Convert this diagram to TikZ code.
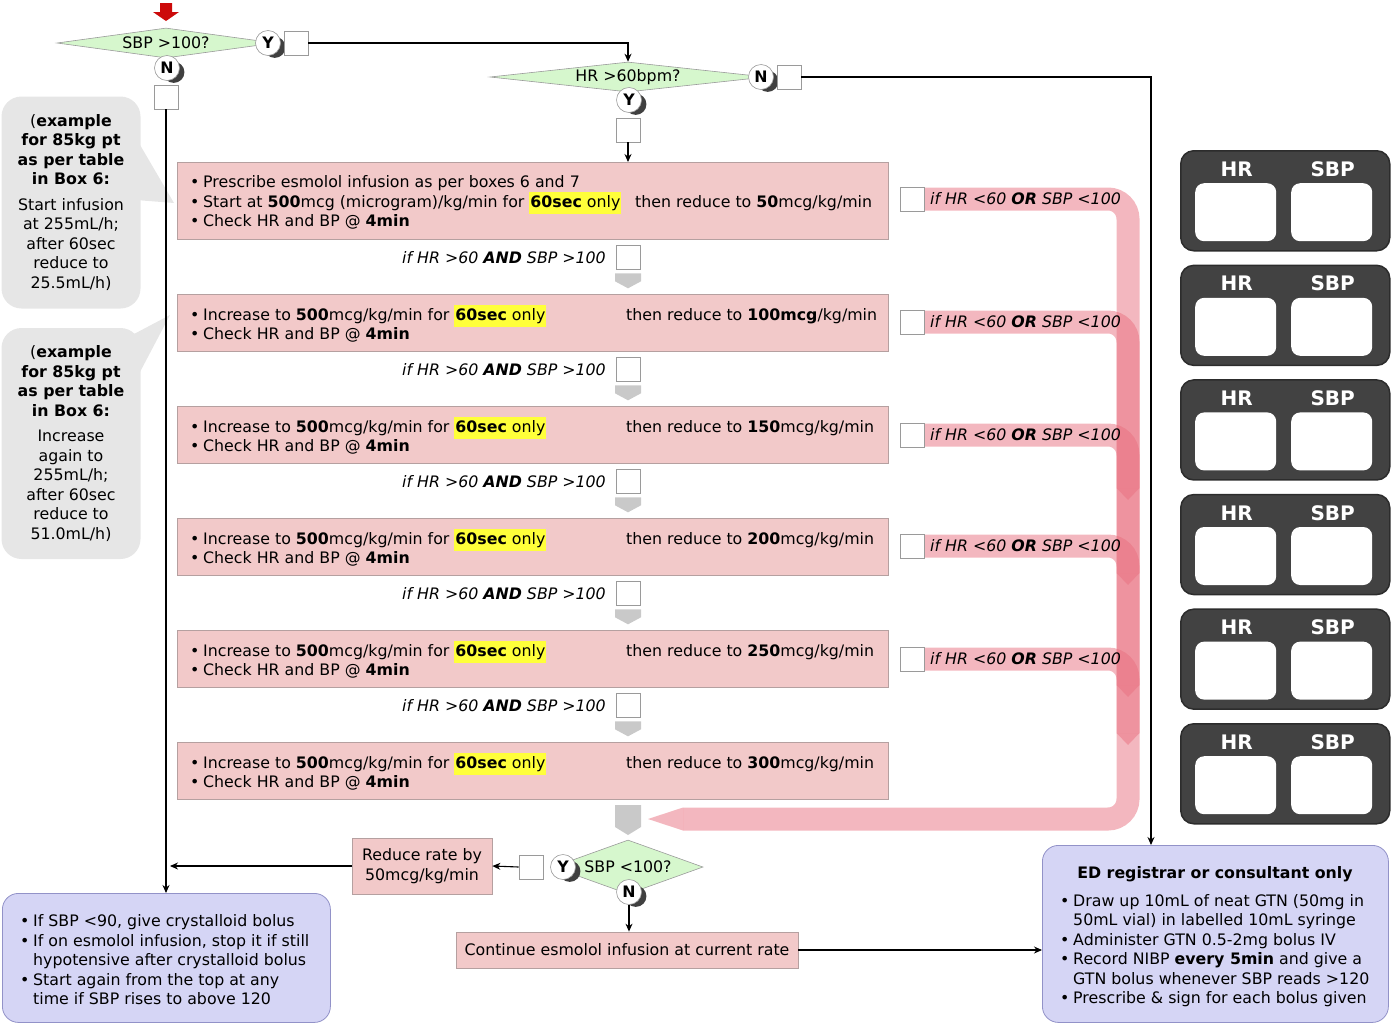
\documentclass[tikz,border=0pt]{standalone}
\usepackage{fontspec}
\setmainfont{DejaVu Sans}
\usepackage{xcolor}
\usepackage{tikz}
\usetikzlibrary{calc,arrows.meta,shapes.geometric,shadows}
\definecolor{pinkbox}{HTML}{F2C9C9}
\definecolor{pinkline}{HTML}{B5A0A0}
\definecolor{greenfill}{HTML}{D6F7CD}
\definecolor{greyline}{HTML}{9A9A9A}
\definecolor{calloutbg}{HTML}{E6E6E6}
\definecolor{lavfill}{HTML}{D5D5F5}
\definecolor{lavline}{HTML}{9292C8}
\definecolor{panelbg}{HTML}{424242}
\definecolor{panelline}{HTML}{2C2C2C}
\definecolor{bandc}{HTML}{E8707F}
\definecolor{chevc}{HTML}{C9C9C9}
\definecolor{hly}{HTML}{FFFF3A}
\definecolor{startred}{HTML}{CC0A0A}
\newcommand\fs{\fontsize{15.8}{19.5}\selectfont}
\newcommand\hl[1]{{\setlength{\fboxsep}{1pt}\colorbox{hly}{\strut#1}}}
\newcommand\bul{\makebox[13pt][l]{•}}
\newcommand\ind{\hspace*{13pt}}
\tikzset{
  conn/.style={draw=black, line width=1.1pt, -{Stealth[length=8pt,width=7pt]}},
  stepbox/.style={draw=pinkline, fill=pinkbox, line width=0.8pt, inner sep=0pt},
  dia/.style={diamond, draw=greyline, fill=greenfill, line width=0.6pt, inner sep=0pt, font=\fs},
  yn/.style={circle, draw=greyline, fill=white, line width=0.6pt, minimum size=25pt, inner sep=0pt, font=\fs\bfseries,
    general shadow={fill=black!75, shadow xshift=8pt, shadow yshift=-5pt, shadow scale=0.85}},
  chk/.style={draw=greyline, fill=white, line width=0.6pt, minimum size=24pt, inner sep=0pt},
  txt/.style={font=\fs, inner sep=0pt, align=left},
  cond/.style={font=\fs\itshape, inner sep=0pt},
  callout/.style={fill=calloutbg, rounded corners=20pt, inner sep=0pt},
  lav/.style={draw=lavline, fill=lavfill, line width=0.8pt, rounded corners=16pt, inner sep=0pt},
  panel/.style={draw=panelline, fill=panelbg, line width=1.5pt, rounded corners=13pt, inner sep=0pt},
  slot/.style={fill=white, rounded corners=9pt, inner sep=0pt},
  band/.style={draw=bandc, draw opacity=0.5, line width=23pt, rounded corners=20pt},
  bandtip/.style={fill=bandc, fill opacity=0.5},
}
\begin{document}
\begin{tikzpicture}[x=1pt,y=-1pt]
  \useasboundingbox (0,0) rectangle (1394,1026);

  % return bands
  \draw[band] (924,199) -- (1128,199) -- (1128,819) -- (683,819);
  \fill[bandtip] (683,807.5) -- (648,819) -- (683,830.5) -- cycle;
  \foreach \y/\t in {322/500,435/585,546/697,659/745}{
    \draw[band] (924,\y) -- (1128,\y) -- (1128,\t-12);
    \fill[bandtip] (1116.5,\t-12) -- (1128,\t) -- (1139.5,\t-12) -- cycle;
  }

  % start
  \fill[startred] (160,3) -- (172,3) -- (172,12) -- (179,12) -- (166,21) -- (153,12) -- (160,12) -- cycle;
  \node[dia, aspect=7.2, minimum width=218pt, minimum height=30pt] (sbpq) at (166,43) {SBP >100?};
  \node[yn] (y1) at (268,43) {Y};
  \node[chk] (cy1) at (296,43) {};
  \node[yn] (n1) at (167,68) {N};
  \node[chk] (cn1) at (166,97) {};

  \node[dia, aspect=9, minimum width=276pt, minimum height=30pt] (hrq) at (628,77) {HR >60bpm?};
  \node[yn] (n2) at (761,77) {N};
  \node[chk] (cn2) at (789,77) {};
  \node[yn] (y2) at (629,100) {Y};
  \node[chk] (cy2) at (628,130) {};

  % steps
  \node[stepbox, minimum width=711pt, minimum height=77pt, anchor=north west] (b1) at (177,162) {};
  \node[txt, anchor=west] (b1t) at ($(b1.west)+(13,1.5)$) {\bul Prescribe esmolol infusion as per boxes 6 and 7\\
    \makebox[445pt][l]{\bul Start at \textbf{500}mcg (microgram)/kg/min for \hl{\textbf{60sec} only}}then reduce to \textbf{50}mcg/kg/min\\
    \bul Check HR and BP @ \textbf{4min}};
  \foreach \i/\y/\v in {2/294/{\textbf{100mcg}},3/406/{\textbf{150}mcg},4/518/{\textbf{200}mcg},5/630/{\textbf{250}mcg},6/742/{\textbf{300}mcg}}{
    \node[stepbox, minimum width=711pt, minimum height=57pt, anchor=north west] (b\i) at (177,\y) {};
    \node[txt, anchor=west] (b\i t) at ($(b\i.west)+(13,1)$) {\makebox[436pt][l]{\bul Increase to \textbf{500}mcg/kg/min for \hl{\textbf{60sec} only}}then reduce to \v/kg/min\\
      \bul Check HR and BP @ \textbf{4min}};
  }
  \foreach \i/\y in {1/258,2/370,3/482,4/594,5/706}{
    \node[cond, anchor=east] (and\i) at (606,\y) {if HR >60 \textbf{AND} SBP >100};
    \node[chk] (ca\i) at (628,\y-1) {};
    \fill[chevc] ($(ca\i.south)+(-13,4)$) -- ++(26,0) -- ++(0,8) -- ++(-13,7) -- ++(-13,-7) -- cycle;
  }
  \foreach \i/\y in {1/199,2/322,3/435,4/546,5/659}{
    \node[chk] (ck\i) at (912,\y) {};
    \node[cond, anchor=west] (or\i) at (930,\y) {if HR <60 \textbf{OR} SBP <100};
  }
  \fill[chevc] (615,805) -- (641,805) -- (641,827) -- (628,835) -- (615,827) -- cycle;

  % bottom decision
  \node[dia, aspect=2.8, minimum width=150pt, minimum height=54pt] (sbp3) at (628,867) {SBP <100?};
  \node[yn] (y3) at (563,867) {Y};
  \node[chk] (cy3) at (531,867) {};
  \node[yn] (n3) at (629,892) {N};
  \node[stepbox, minimum width=140pt, minimum height=56pt, align=center, font=\fs] (red) at (422,866) {Reduce rate by\\50mcg/kg/min};
  \node[stepbox, minimum width=342pt, minimum height=36pt, font=\fs] (cont) at (627,950) {Continue esmolol infusion at current rate};

  % callouts
  \fill[calloutbg] (136,138) -- (174,203) -- (136,200) -- cycle;
  \fill[calloutbg] (134,334) -- (170,315) -- (140,372) -- cycle;
  \node[callout, minimum width=139pt, minimum height=212pt, align=center, font=\fs] (ex1) at (71,202.5)
    {(\textbf{example}\\\textbf{for 85kg pt}\\\textbf{as per table}\\\textbf{in Box 6:}\\[6pt]Start infusion\\at 255mL/h;\\after 60sec\\reduce to\\25.5mL/h)};
  \node[callout, minimum width=139pt, minimum height=231pt, align=center, font=\fs] (ex2) at (71,443.5)
    {(\textbf{example}\\\textbf{for 85kg pt}\\\textbf{as per table}\\\textbf{in Box 6:}\\[6pt]Increase\\again to\\255mL/h;\\after 60sec\\reduce to\\51.0mL/h)};

  % outcome boxes
  \node[lav, minimum width=328pt, minimum height=129pt, anchor=north west] (low) at (2,893) {};
  \node[txt, anchor=west] (lowt) at (20,960) {\bul If SBP <90, give crystalloid bolus\\\bul If on esmolol infusion, stop it if still\\\ind hypotensive after crystalloid bolus\\\bul Start again from the top at any\\\ind time if SBP rises to above 120};
  \node[lav, minimum width=346pt, minimum height=177pt, anchor=north west] (ed) at (1042,845) {};
  \coordinate (edin) at ($(ed.north west)+(109,0)$);
  \node[font=\fs\bfseries, inner sep=0pt] (edt) at (1215,874) {ED registrar or consultant only};
  \node[txt, anchor=west] (edb) at (1060,950.5) {\bul Draw up 10mL of neat GTN (50mg in\\\ind 50mL vial) in labelled 10mL syringe\\\bul Administer GTN 0.5-2mg bolus IV\\\bul Record NIBP \textbf{every 5min} and give a\\\ind GTN bolus whenever SBP reads >120\\\bul Prescribe \& sign for each bolus given};

  % HR / SBP panels
  \foreach \i in {0,...,5}{
    \node[panel, minimum width=209pt, minimum height=100pt, anchor=north west] (pn\i) at (1180,{150+114.6*\i}) {};
    \node[slot, minimum width=81pt, minimum height=58pt, anchor=north west] (hs\i) at ($(pn\i.north west)+(15,33)$) {};
    \node[slot, minimum width=81pt, minimum height=58pt, anchor=north west] (ss\i) at ($(pn\i.north west)+(111,33)$) {};
    \node[font=\fontsize{20}{24}\selectfont\bfseries, text=white, inner sep=0pt] (hl\i) at ($(hs\i.north)+(1,-14)$) {HR};
    \node[font=\fontsize{20}{24}\selectfont\bfseries, text=white, inner sep=0pt] (sl\i) at ($(ss\i.north)+(1,-14)$) {SBP};
  }

  % connectors
  \draw[conn] (cy1.east) -| (hrq.north);
  \draw[conn] (cn2.east) -| (edin);
  \draw[conn] (cy2.south) -- (cy2.south |- b1.north);
  \draw[conn] (cn1.south) -- (cn1.south |- low.north);
  \draw[conn, shorten >=4pt] (red.west) -- (red.west -| cn1.south);
  \draw[conn] (cy3.west) -- (red.east);
  \draw[conn] (n3.south) -- (n3.south |- cont.north);
  \draw[conn] (cont.east) -- (cont.east -| ed.west);
\end{tikzpicture}
\end{document}
